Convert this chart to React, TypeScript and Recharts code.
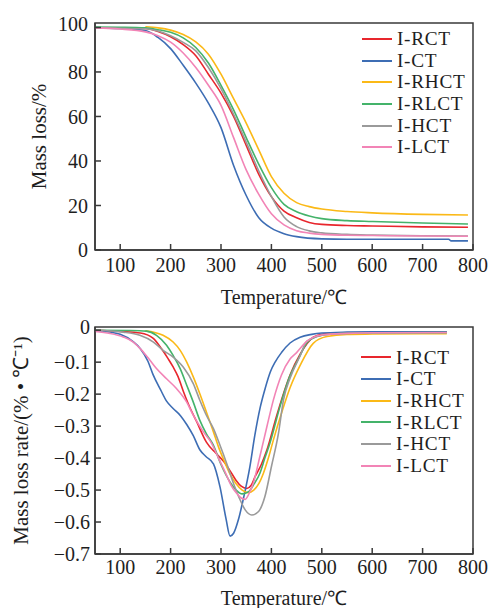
import React from 'react';
import { LineChart, Line, XAxis, YAxis, Legend, ReferenceArea, Label } from 'recharts';

type P = [number, number];

const seriesNames = ['I-RCT', 'I-CT', 'I-RHCT', 'I-RLCT', 'I-HCT', 'I-LCT'];
const seriesColors = ['#e8262d', '#3d6db4', '#fbb917', '#44b36a', '#9a9a9a', '#f284b6'];
const xTicks = [100, 200, 300, 400, 500, 600, 700, 800];
const tgTicks = [0, 20, 40, 60, 80, 100];
const dtgTicks = [0, -0.1, -0.2, -0.3, -0.4, -0.5, -0.6, -0.7];

// TG curves: [temperature, mass %]
const tgRct: P[] = [[50,99.8],[100,99.7],[150,99.5],[175,98.2],[200,95.8],[225,92.3],[250,87.3],[275,79],[300,70.5],[325,60],[350,47],[375,34],[400,24],[425,17.5],[450,14.5],[475,12.4],[500,11.5],[550,11],[600,10.8],[700,10.4],[790,10.2]];
const tgCt: P[] = [[50,99.8],[100,99.5],[150,98.6],[175,95.5],[200,90.5],[225,83],[250,75],[275,66],[300,55],[325,38],[350,24.5],[375,14.5],[400,9.8],[425,7.3],[450,6],[500,5],[550,4.8],[600,4.8],[700,4.8],[752,4.8],[756,4.1],[790,4.1]];
const tgRhct: P[] = [[150,100.3],[175,99.8],[200,98.8],[225,96.8],[250,93.5],[275,88],[300,79],[325,68],[350,57],[375,45],[400,33],[425,25.5],[450,21.3],[475,19.5],[500,18.4],[550,17.3],[600,16.7],[700,16],[790,15.7]];
const tgRlct: P[] = [[50,100.2],[100,100.1],[150,99.8],[175,99],[200,97.8],[225,95.3],[250,91],[275,84],[300,74],[325,63],[350,50.5],[375,38.5],[400,28],[425,20.5],[450,17.2],[475,15.3],[500,14.1],[550,13.2],[600,12.8],[700,12.1],[790,11.7]];
const tgHct: P[] = [[50,99.8],[100,99.6],[150,99.4],[175,98.4],[200,96.3],[225,93.3],[250,89.5],[275,82],[300,72.5],[325,61],[350,48.5],[375,35.5],[400,24],[425,14.8],[450,10.5],[475,8.6],[500,7.7],[550,7],[600,6.7],[700,6.4],[790,6.3]];
const tgLct: P[] = [[50,99.8],[100,99.3],[150,98],[175,96.3],[200,93.4],[225,88.5],[250,82],[275,74],[300,65],[325,50.5],[350,36],[375,25],[400,16.3],[425,11.3],[450,8.7],[475,7.6],[500,7],[550,6.6],[600,6.5],[700,6.3],[790,6.2]];

// DTG curves: [temperature, rate %/°C]
const dtgRct: P[] = [[50,0],[100,-0.004],[140,-0.009],[165,-0.025],[182,-0.058],[195,-0.089],[205,-0.115],[215,-0.146],[225,-0.19],[235,-0.23],[252,-0.287],[271,-0.35],[290,-0.385],[305,-0.41],[318,-0.44],[330,-0.47],[340,-0.488],[351,-0.495],[360,-0.485],[367,-0.46],[380,-0.42],[391,-0.375],[410,-0.27],[420,-0.218],[437,-0.14],[457,-0.075],[483,-0.022],[503,-0.012],[550,-0.008],[600,-0.007],[748,-0.006]];
const dtgCt: P[] = [[50,0],[75,-0.005],[100,-0.013],[125,-0.035],[140,-0.058],[155,-0.097],[165,-0.138],[180,-0.186],[192,-0.222],[205,-0.245],[220,-0.268],[232,-0.295],[245,-0.33],[258,-0.374],[270,-0.395],[285,-0.418],[298,-0.49],[310,-0.59],[318,-0.644],[325,-0.635],[335,-0.59],[344,-0.53],[357,-0.43],[367,-0.33],[378,-0.24],[388,-0.18],[398,-0.13],[408,-0.098],[420,-0.07],[437,-0.04],[457,-0.022],[480,-0.013],[500,-0.009],[550,-0.006],[600,-0.005],[748,-0.005]];
const dtgRhct: P[] = [[150,-0.002],[185,-0.016],[205,-0.037],[219,-0.063],[232,-0.1],[245,-0.146],[258,-0.199],[271,-0.256],[285,-0.318],[295,-0.365],[308,-0.415],[318,-0.45],[330,-0.48],[342,-0.5],[354,-0.508],[365,-0.5],[375,-0.48],[384,-0.448],[394,-0.4],[404,-0.343],[420,-0.26],[437,-0.18],[457,-0.11],[483,-0.041],[510,-0.02],[550,-0.013],[600,-0.012],[700,-0.011],[748,-0.011]];
const dtgRlct: P[] = [[50,0],[120,-0.001],[152,-0.003],[172,-0.016],[192,-0.047],[205,-0.079],[219,-0.12],[232,-0.172],[245,-0.225],[258,-0.282],[271,-0.324],[285,-0.36],[300,-0.42],[318,-0.475],[330,-0.5],[342,-0.512],[355,-0.505],[366,-0.48],[377,-0.448],[387,-0.4],[397,-0.354],[417,-0.239],[435,-0.15],[455,-0.085],[470,-0.04],[490,-0.02],[520,-0.012],[600,-0.008],[748,-0.007]];
const dtgHct: P[] = [[50,0],[106,-0.006],[139,-0.016],[166,-0.037],[185,-0.063],[205,-0.084],[225,-0.115],[245,-0.167],[258,-0.219],[271,-0.266],[285,-0.308],[298,-0.36],[312,-0.42],[325,-0.48],[338,-0.531],[348,-0.562],[361,-0.578],[374,-0.568],[387,-0.521],[400,-0.427],[414,-0.323],[424,-0.218],[437,-0.15],[457,-0.08],[470,-0.035],[490,-0.02],[520,-0.012],[600,-0.009],[748,-0.008]];
const dtgLct: P[] = [[50,-0.004],[80,-0.01],[106,-0.021],[126,-0.037],[143,-0.063],[159,-0.094],[172,-0.12],[192,-0.152],[212,-0.183],[232,-0.225],[245,-0.266],[265,-0.318],[280,-0.35],[295,-0.4],[310,-0.45],[320,-0.485],[331,-0.51],[340,-0.525],[348,-0.529],[356,-0.51],[364,-0.479],[377,-0.396],[391,-0.302],[404,-0.218],[420,-0.14],[437,-0.09],[450,-0.07],[470,-0.035],[500,-0.015],[550,-0.01],[600,-0.008],[748,-0.007]];

const tgSeries = [tgRct, tgCt, tgRhct, tgRlct, tgHct, tgLct];
const dtgSeries = [dtgRct, dtgCt, dtgRhct, dtgRlct, dtgHct, dtgLct];

const toPts = (arr: P[]) => arr.map(([x, y]) => ({ x, y }));

const FONT = '"Liberation Serif", "Times New Roman", serif';
const AXIS = '#3a3a3a';
const TEXT = '#1e1e1e';

const tickStyle = { fill: TEXT, fontSize: 20, fontFamily: FONT };

const renderLegend = (props: any) => {
  const payload = [...(props.payload || [])].sort(
    (a: any, b: any) => seriesNames.indexOf(a.value) - seriesNames.indexOf(b.value)
  );
  return (
    <div style={{ fontFamily: FONT, fontSize: 19.3 }}>
      {payload.map((p: any) => (
        <div key={p.value} style={{ display: 'flex', alignItems: 'center', height: 21.7 }}>
          <div style={{ width: 30, height: 2, background: p.color, marginRight: 5, flex: 'none' }} />
          <span
            style={{
              fontSize: 19.3,
              color: TEXT,
              lineHeight: '21.7px',
              whiteSpace: 'nowrap',
              letterSpacing: 0.7,
            }}
          >
            {p.value}
          </span>
        </div>
      ))}
    </div>
  );
};

const minusFmt = (v: number) => (v === 0 ? '0' : '\u2212' + Math.abs(v).toFixed(1));

// Y tick label renderer: the top label sits a little higher, as in the source figure
const makeYTick = (topValue: number, lift: number, fmt: (v: number) => string) => (props: any) => {
  const { x, y, payload } = props;
  const v = payload.value;
  return (
    <text
      x={x}
      y={y + (Math.abs(v - topValue) < 1e-9 ? -lift : 0)}
      dy="0.355em"
      textAnchor="end"
      fill={TEXT}
      fontSize={20}
      fontFamily={FONT}
    >
      {fmt(v)}
    </text>
  );
};

const tgYTick = makeYTick(100, 4, (v) => String(v));
const dtgYTick = makeYTick(0, 3, minusFmt);

export default function App() {
  return (
    <div style={{ position: 'absolute', left: 0, top: 0, width: 493, height: 608, background: '#fff' }}>
      <div style={{ position: 'absolute', left: 0, top: 0 }}>
        <LineChart width={493} height={310} margin={{ top: 23, right: 20, left: 0, bottom: 0 }}>
          <ReferenceArea x1={50} x2={800} y1={0} y2={102} fill="none" stroke={AXIS} strokeWidth={1.5} fillOpacity={0} />
          <XAxis
            dataKey="x"
            type="number"
            domain={[50, 800]}
            ticks={xTicks}
            height={60}
            tickSize={-6}
            tickMargin={14}
            tick={tickStyle}
            axisLine={{ stroke: AXIS, strokeWidth: 1.5 }}
            tickLine={{ stroke: AXIS, strokeWidth: 1.5 }}
            allowDataOverflow
          >
            <Label value="Temperature/℃" position="insideBottom" offset={6} fill={TEXT} fontSize={20} fontFamily={FONT} />
          </XAxis>
          <YAxis
            type="number"
            domain={[0, 102]}
            ticks={tgTicks}
            width={95}
            tickSize={-6}
            tickMargin={13}
            tick={tgYTick}
            axisLine={{ stroke: AXIS, strokeWidth: 1.5 }}
            tickLine={{ stroke: AXIS, strokeWidth: 1.5 }}
            allowDataOverflow
          >
            <Label value="Mass loss/%" angle={-90} position="center" dx={-9} fill={TEXT} fontSize={21} fontFamily={FONT} />
          </YAxis>
          <Legend
            layout="vertical"
            align="center"
            verticalAlign="middle"
            content={renderLegend}
            wrapperStyle={{ top: 28, left: 362, width: 'auto' }}
          />
          {tgSeries.map((s, i) => (
            <Line
              key={seriesNames[i]}
              data={toPts(s)}
              dataKey="y"
              name={seriesNames[i]}
              type="monotone"
              stroke={seriesColors[i]}
              strokeWidth={1.6}
              dot={false}
              activeDot={false}
              isAnimationActive={false}
            />
          ))}
        </LineChart>
      </div>
      <div style={{ position: 'absolute', left: 0, top: 300 }}>
        <LineChart width={493} height={308} margin={{ top: 27, right: 20, left: 0, bottom: 0 }}>
          <ReferenceArea x1={50} x2={800} y1={-0.7} y2={0.01} fill="none" stroke={AXIS} strokeWidth={1.5} fillOpacity={0} />
          <XAxis
            dataKey="x"
            type="number"
            domain={[50, 800]}
            ticks={xTicks}
            height={54}
            tickSize={-6}
            tickMargin={12}
            tick={tickStyle}
            axisLine={{ stroke: AXIS, strokeWidth: 1.5 }}
            tickLine={{ stroke: AXIS, strokeWidth: 1.5 }}
            allowDataOverflow
          >
            <Label value="Temperature/℃" position="insideBottom" offset={3} fill={TEXT} fontSize={20} fontFamily={FONT} />
          </XAxis>
          <YAxis
            type="number"
            domain={[-0.7, 0.01]}
            ticks={dtgTicks}
            width={95}
            tickSize={-6}
            tickMargin={11}
            tick={dtgYTick}
            axisLine={{ stroke: AXIS, strokeWidth: 1.5 }}
            tickLine={{ stroke: AXIS, strokeWidth: 1.5 }}
            allowDataOverflow
          >
            <Label value="Mass loss rate/(% • ℃⁻¹)" angle={-90} position="center" dx={-27} fill={TEXT} fontSize={21} fontFamily={FONT} />
          </YAxis>
          <Legend
            layout="vertical"
            align="center"
            verticalAlign="middle"
            content={renderLegend}
            wrapperStyle={{ top: 46.5, left: 361, width: 'auto' }}
          />
          {dtgSeries.map((s, i) => (
            <Line
              key={seriesNames[i]}
              data={toPts(s)}
              dataKey="y"
              name={seriesNames[i]}
              type="monotone"
              stroke={seriesColors[i]}
              strokeWidth={1.6}
              dot={false}
              activeDot={false}
              isAnimationActive={false}
            />
          ))}
        </LineChart>
      </div>
    </div>
  );
}
